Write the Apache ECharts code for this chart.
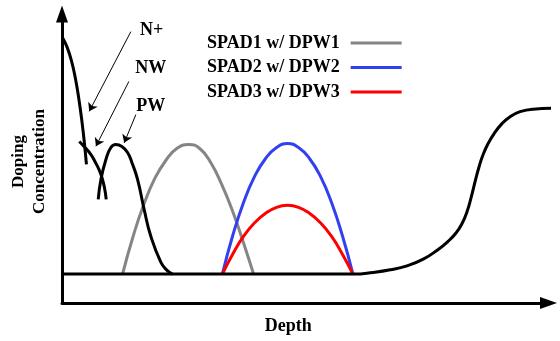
<!DOCTYPE html>
<html><head><meta charset="utf-8">
<script src="https://cdn.jsdelivr.net/npm/echarts@6/dist/echarts.min.js"></script>
<style>html,body{margin:0;padding:0;background:#fff}#c{width:560px;height:341px}</style>
</head><body><div id="c"></div>
<script>
// Schematic depth units (x) and doping level units (y)
const legendNames = ['SPAD1 w/ DPW1', 'SPAD2 w/ DPW2', 'SPAD3 w/ DPW3'];
const dpw1 = [[60.7,29],[71,66],[82,99],[93,125],[104,143],[115,155],[127,159],[138,155],[149,141],[160,119],[171,92],[182,60],[192,29]];
const dpw2 = [[160.7,29],[171,67.5],[182,101],[193,127],[204,145],[215,156],[226,160],[237,156],[248,145],[259,127],[270,101],[281,67.5],[291.5,29]];
const dpw3 = [[160.7,29],[171,49],[182,67],[193,80.5],[204,90],[215,96],[226,98],[237,96],[248,90],[259,80.5],[270,67],[281,49],[291.5,29]];
const nPlus = [[0.7,266],[5,257],[9.5,243],[13.5,225],[17,204],[20,182],[22.5,160],[24.5,139]];
const nWell = [[17.3,162],[23,156],[29,149],[33,142],[37,134],[40,126],[42.5,116],[44.3,104]];
const pWell = [[36.3,104],[39,124],[44,144],[49,156],[54,159],[60,157],[65.7,151],[70,141],[75.7,124],[82.3,94],[89,67],[99,41],[105,33],[110.7,29]];
const substrate = [[0,29],[150,29],[260,29],[292,29],[312,30.7],[329,33.3],[345.7,37.3],[362,44],[376,53],[387,62],[395,70.5],[401,80],[406,92],[410,106],[414,122],[418,137],[422,149],[427,160],[433,170],[440,179],[449,187],[459,192],[472,194.5],[499,195.5]];
const annoNames = ['N+', 'NW', 'PW'];
const annoLabelPos = [[89.8,274],[89,235],[89,197.5]];
const annoFrom = [[69,272.3],[67,222.3],[74,189]];
const annoTo = [[27.3,192.3],[34,157.3],[62.3,160.7]];
const xMax = 487.5, yMax = 290;

const font = 'Liberation Serif, Times New Roman, serif';
const chart = echarts.init(document.getElementById('c'), null, {renderer: 'canvas'});
const curve = (name, data, color, z, extra) => Object.assign({
  name, type: 'line', data, showSymbol: false, symbol: 'none', smooth: 0.5,
  lineStyle: {color, width: 3}, itemStyle: {color}, z, clip: false
}, extra || {});

chart.setOption({
  animation: false,
  backgroundColor: '#fff',
  grid: {left: 61, right: 11.5, top: 14, bottom: 37},
  legend: {
    data: legendNames, orient: 'vertical', left: 207, top: 33, padding: 0,
    align: 'right', icon: 'rect', itemWidth: 51, itemHeight: 3, itemGap: 4.5,
    textStyle: {fontFamily: font, fontWeight: 'bold', fontSize: 18, color: '#000', lineHeight: 20, padding: [0, 6, 0, 0]}
  },
  xAxis: {
    type: 'value', min: 0, max: xMax, name: 'Depth', nameLocation: 'middle', nameGap: 13,
    nameTextStyle: {fontFamily: font, fontWeight: 'bold', fontSize: 18, color: '#000', padding: [0, 34, 0, 0], verticalAlign: 'top', lineHeight: 20},
    axisLine: {show: true, onZero: false, symbol: ['none', 'triangle'], symbolSize: [12, 17], lineStyle: {color: '#000', width: 3}},
    axisTick: {show: false}, axisLabel: {show: false}, splitLine: {show: false}
  },
  yAxis: {
    type: 'value', min: 0, max: yMax, name: 'Doping\nConcentration', nameLocation: 'middle', nameGap: 12, nameRotate: 90,
    nameTextStyle: {fontFamily: font, fontWeight: 'bold', fontSize: 17, color: '#000', lineHeight: 21, padding: [0, 6, 0, 0]},
    axisLine: {show: true, onZero: false, symbol: ['none', 'triangle'], symbolSize: [12, 17], lineStyle: {color: '#000', width: 3}},
    axisTick: {show: false}, axisLabel: {show: false}, splitLine: {show: false}
  },
  series: [
    curve(legendNames[0], dpw1, '#858585', 2),
    curve(legendNames[1], dpw2, '#3340ee', 3),
    curve(legendNames[2], dpw3, '#ff0000', 4),
    curve('N+ profile', nPlus, '#000', 5, {
      markLine: {
        silent: true, symbol: ['none', 'arrow'], symbolSize: 8, animation: false,
        lineStyle: {color: '#000', width: 1, type: 'solid', opacity: 1}, label: {show: false},
        data: annoFrom.map((p, i) => [{coord: p}, {coord: annoTo[i]}])
      }
    }),
    curve('NW profile', nWell, '#000', 5),
    curve('PW profile', pWell, '#000', 5),
    curve('Substrate', substrate, '#000', 5),
    {
      name: 'labels', type: 'scatter', symbolSize: 0, z: 6, itemStyle: {opacity: 1},
      data: annoLabelPos.map((p, i) => ({value: p, name: annoNames[i]})),
      label: {show: true, position: 'inside', formatter: '{b}', fontFamily: font, fontWeight: 'bold', fontSize: 18, color: '#000', opacity: 1}
    }
  ]
});
</script></body></html>
